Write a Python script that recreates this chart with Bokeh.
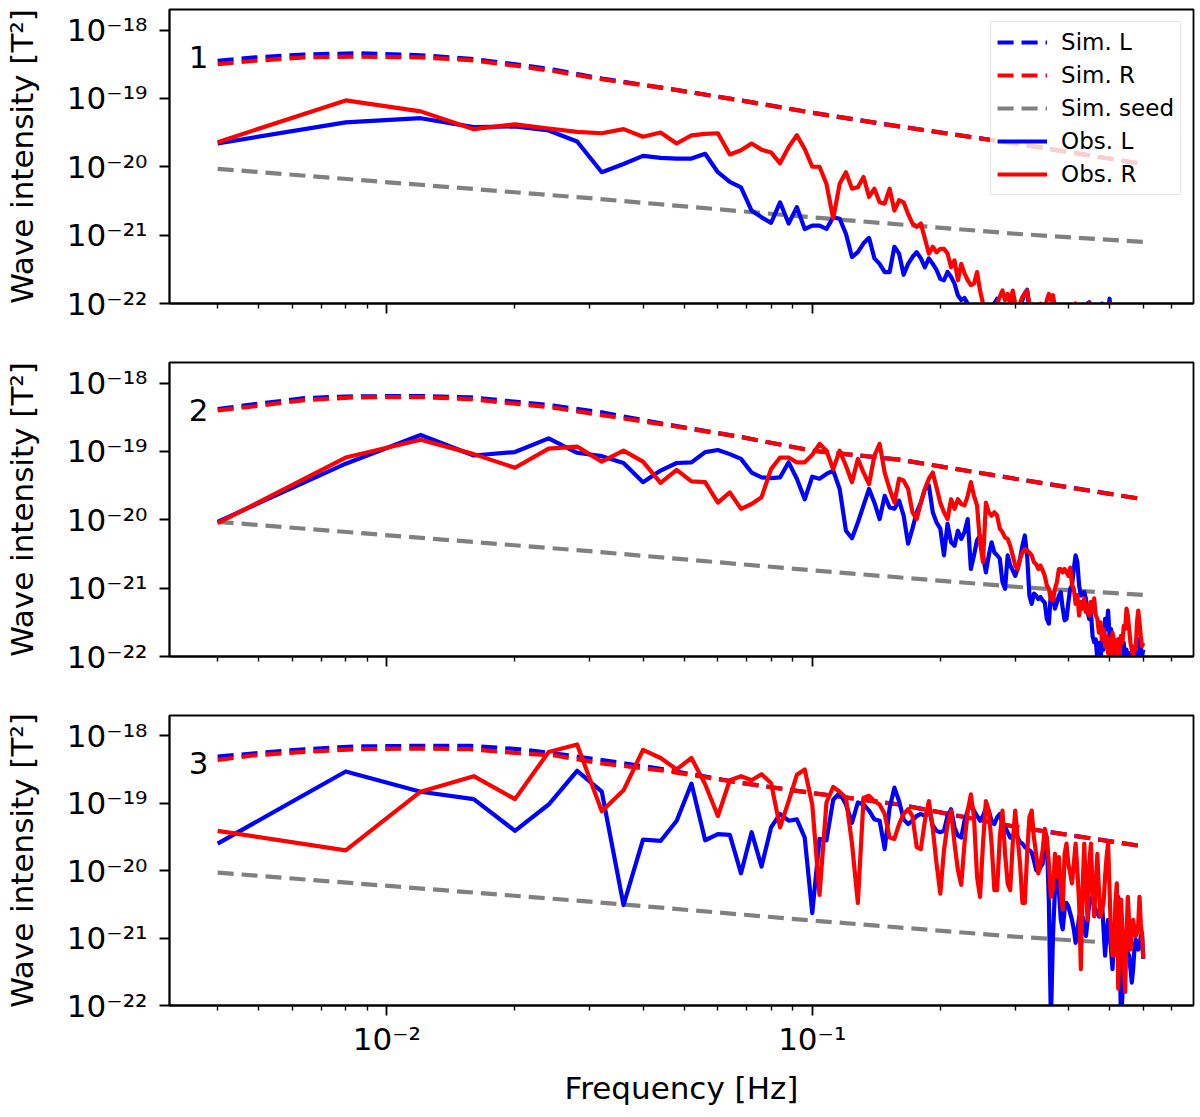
from bokeh.plotting import figure
from bokeh.models import Range1d, FixedTicker, CustomJSTickFormatter, Label, Legend, LegendItem
from bokeh.layouts import column
from bokeh.embed import file_html
from bokeh.resources import INLINE

# ---------------- data (intensities given as log10 of T^2) ----------------
# observed spectra sampled every 0.004 Hz (k = 1..150)
freq = [round(0.004 * k, 3) for k in range(1, 151)]

obs_L1_log10 = [
    -19.66, -19.35, -19.29, -19.42, -19.41, -19.47, -19.63, -20.08, -19.96, -19.84,
    -19.87, -19.88, -19.88, -19.81, -20.08, -20.22, -20.30, -20.64, -20.74, -20.82,
    -20.52, -20.83, -20.59, -20.91, -20.86, -20.86, -20.91, -20.74, -20.76, -20.98,
    -21.32, -21.25, -21.12, -21.04, -21.34, -21.42, -21.54, -21.54, -21.17, -21.27,
    -21.58, -21.42, -21.32, -21.25, -21.34, -21.47, -21.34, -21.42, -21.51, -21.64,
    -21.66, -21.54, -21.61, -21.71, -21.88, -21.95, -21.92, -22.00, -22.08, -22.20,
    -22.15, -22.30, -22.10, -22.25, -22.20, -22.10, -22.00, -21.93, -22.05, -22.20,
    -22.30, -22.15, -22.25, -22.10, -22.20, -22.30, -22.05, -21.95, -21.85, -21.80,
    -22.10, -22.05, -22.20, -22.30, -22.15, -22.10, -22.20, -22.30, -22.15, -22.05,
    -22.02, -22.20, -22.30, -22.25, -22.20, -22.30, -22.25, -22.35, -22.30, -22.20,
    -22.30, -22.25, -22.30, -22.35, -22.30, -22.20, -22.30, -22.25, -22.10, -22.05,
    -22.00, -21.98, -22.20, -22.30, -22.25, -22.10, -22.05, -22.02, -22.15, -22.00,
    -22.30, -22.35, -22.30, -22.10, -21.93, -22.15, -22.30, -22.25, -22.30, -22.20,
    -22.10, -22.20, -22.30, -22.25, -22.10, -22.10, -22.15, -22.20, -22.10, -22.30,
    -22.35, -22.30, -22.25, -22.05, -22.20, -22.30, -22.35, -22.30, -22.40, -22.35,
]
obs_R1_log10 = [
    -19.64, -19.03, -19.19, -19.45, -19.38, -19.44, -19.49, -19.51, -19.45, -19.56,
    -19.50, -19.66, -19.54, -19.52, -19.51, -19.82, -19.76, -19.66, -19.75, -19.79,
    -19.95, -19.71, -19.54, -19.74, -20.00, -20.00, -20.25, -20.76, -20.25, -20.08,
    -20.32, -20.30, -20.15, -20.44, -20.32, -20.52, -20.54, -20.32, -20.64, -20.49,
    -20.52, -20.69, -20.83, -20.88, -20.83, -21.05, -21.27, -21.17, -21.25, -21.20,
    -21.20, -21.27, -21.47, -21.37, -21.66, -21.42, -21.56, -21.66, -21.73, -21.71,
    -21.54, -21.81, -22.00, -22.10, -22.15, -22.20, -22.10, -22.00, -21.90, -21.81,
    -21.95, -21.86, -22.00, -21.81, -22.00, -22.10, -22.00, -21.90, -21.86, -21.81,
    -22.00, -22.10, -22.20, -22.10, -22.20, -22.00, -22.05, -22.10, -21.95, -21.86,
    -21.95, -21.88, -22.05, -22.20, -22.30, -22.20, -22.25, -22.30, -22.35, -22.30,
    -22.20, -22.10, -22.05, -22.00, -22.15, -22.30, -22.35, -22.30, -22.20, -22.10,
    -22.05, -22.00, -22.15, -22.30, -22.35, -22.30, -22.25, -22.30, -22.35, -22.30,
    -22.20, -22.10, -22.05, -22.15, -22.00, -22.20, -22.30, -22.35, -22.30, -22.25,
    -22.30, -22.35, -22.30, -22.40, -22.35, -22.30, -22.25, -22.30, -22.35, -22.40,
    -22.35, -22.30, -22.35, -22.40, -22.35, -22.30, -22.35, -22.40, -22.35, -22.40,
]
obs_L2_log10 = [
    -20.03, -19.18, -18.76, -19.06, -19.01, -18.81, -19.02, -19.07, -19.17, -19.45,
    -19.28, -19.17, -19.16, -19.01, -18.98, -19.04, -19.11, -19.31, -19.38, -19.39,
    -19.38, -19.16, -19.40, -19.70, -19.37, -19.40, -19.33, -19.28, -19.55, -20.16,
    -20.27, -20.04, -19.79, -19.55, -19.75, -19.99, -19.65, -19.82, -19.84, -19.72,
    -19.94, -20.35, -20.13, -19.89, -19.75, -19.55, -19.50, -19.89, -20.04, -20.13,
    -20.52, -20.06, -20.33, -20.38, -20.16, -20.28, -20.18, -19.99, -20.72, -20.52,
    -20.30, -20.23, -20.52, -20.77, -20.52, -20.33, -20.48, -20.52, -20.57, -20.91,
    -21.01, -20.52, -20.67, -20.74, -20.82, -20.72, -20.57, -20.38, -20.23, -20.52,
    -21.11, -21.23, -21.08, -21.11, -21.16, -21.13, -21.18, -21.21, -21.45, -21.52,
    -21.06, -21.11, -21.30, -21.21, -21.11, -21.06, -21.30, -21.47, -21.45, -21.21,
    -21.01, -20.96, -20.72, -20.52, -20.62, -20.96, -21.11, -21.08, -21.06, -21.16,
    -21.35, -21.45, -21.35, -21.70, -21.79, -21.75, -22.05, -21.80, -22.10, -21.70,
    -21.90, -21.45, -21.60, -21.33, -21.70, -21.60, -22.00, -21.80, -22.15, -21.90,
    -21.75, -22.00, -21.70, -21.95, -21.80, -22.10, -21.90, -22.20, -21.95, -22.10,
    -21.95, -22.20, -22.05, -21.85, -22.00, -21.75, -22.10, -21.85, -22.00, -21.90,
]
obs_R2_log10 = [
    -20.05, -19.09, -18.83, -19.04, -19.24, -18.96, -18.93, -19.15, -18.99, -19.15,
    -19.46, -19.27, -19.44, -19.45, -19.75, -19.60, -19.84, -19.77, -19.67, -19.26,
    -19.09, -19.09, -19.16, -19.16, -19.05, -18.89, -18.99, -19.26, -18.99, -19.21,
    -19.45, -19.11, -19.31, -19.48, -19.06, -18.89, -19.31, -19.55, -19.75, -19.40,
    -19.43, -19.55, -19.89, -19.99, -19.75, -19.55, -19.40, -19.31, -19.53, -19.75,
    -19.89, -19.99, -19.70, -19.84, -19.70, -19.77, -19.79, -19.65, -19.45, -19.65,
    -19.79, -20.33, -20.62, -19.75, -19.89, -19.94, -19.89, -19.94, -20.13, -20.18,
    -20.26, -20.28, -20.38, -20.52, -20.67, -20.72, -20.57, -20.48, -20.43, -20.45,
    -20.48, -20.52, -20.62, -20.65, -20.72, -20.67, -20.74, -20.82, -20.96, -21.01,
    -21.16, -21.18, -21.01, -20.91, -20.72, -20.72, -20.77, -20.72, -20.77, -20.82,
    -20.70, -20.95, -21.01, -21.23, -21.10, -21.40, -21.20, -21.30, -21.15, -21.35,
    -21.25, -21.40, -21.20, -21.35, -21.15, -21.40, -21.45, -21.65, -21.50, -21.75,
    -21.60, -21.85, -21.70, -21.95, -21.75, -22.00, -21.65, -21.75, -21.90, -22.00,
    -21.75, -21.95, -21.70, -21.80, -21.55, -21.60, -21.30, -21.40, -21.60, -21.80,
    -21.90, -22.00, -21.85, -21.90, -21.50, -21.33, -21.50, -21.70, -21.85, -21.80,
]
obs_L3_log10 = [
    -19.60, -18.53, -18.83, -18.94, -19.41, -19.02, -18.52, -18.83, -20.51, -19.54,
    -19.56, -19.26, -18.71, -19.55, -19.46, -19.47, -20.04, -19.43, -19.94, -19.36,
    -19.16, -19.26, -19.24, -19.51, -20.63, -19.53, -19.55, -18.95, -18.85, -19.02,
    -19.29, -18.99, -19.02, -19.11, -19.24, -19.26, -19.68, -19.07, -18.77, -18.97,
    -19.24, -19.31, -19.26, -19.19, -19.16, -19.19, -19.09, -19.33, -19.41, -19.43,
    -19.41, -19.19, -19.09, -19.36, -19.48, -19.51, -19.26, -19.11, -19.02, -19.11,
    -19.19, -19.26, -19.19, -19.07, -19.11, -19.26, -19.31, -19.21, -19.16, -19.31,
    -19.36, -19.43, -19.51, -19.48, -19.46, -19.51, -19.58, -19.60, -19.65, -19.68,
    -19.70, -19.73, -19.85, -19.99, -20.02, -19.95, -19.90, -19.60, -19.51, -20.48,
    -22.24, -20.97, -20.29, -20.09, -20.29, -20.73, -20.87, -20.58, -20.48, -20.53,
    -20.63, -20.73, -20.87, -21.07, -20.92, -20.68, -20.68, -20.68, -20.87, -20.97,
    -20.73, -20.48, -20.43, -20.39, -20.53, -20.58, -20.63, -20.68, -20.58, -20.48,
    -20.87, -21.26, -20.97, -20.73, -20.78, -21.17, -21.46, -20.97, -20.68, -20.53,
    -20.39, -21.22, -22.24, -21.85, -21.26, -20.97, -21.07, -21.22, -21.26, -21.46,
    -21.66, -21.46, -21.17, -21.02, -21.07, -21.17, -21.12, -20.97, -20.92, -21.31,
]
obs_R3_log10 = [
    -19.41, -19.70, -18.83, -18.60, -18.94, -18.24, -18.13, -19.12, -18.81, -18.21,
    -18.33, -18.50, -18.33, -18.72, -19.19, -18.66, -18.60, -18.66, -18.57, -18.70,
    -19.36, -18.97, -18.58, -18.50, -19.02, -20.36, -18.99, -18.76, -18.83, -18.92,
    -19.60, -20.48, -18.92, -18.89, -18.97, -19.02, -19.16, -19.51, -19.53, -19.31,
    -19.16, -19.09, -19.19, -19.65, -19.68, -19.26, -18.97, -19.38, -19.90, -20.34,
    -19.70, -19.31, -19.11, -19.60, -19.99, -20.21, -19.60, -19.11, -18.87, -19.21,
    -20.09, -20.39, -19.60, -18.97, -19.11, -19.60, -20.29, -20.29, -19.51, -19.11,
    -19.75, -20.19, -20.29, -19.60, -19.11, -19.51, -19.90, -20.48, -20.48, -19.75,
    -19.21, -19.11, -19.51, -19.75, -20.04, -19.90, -19.70, -19.38, -19.51, -19.90,
    -20.39, -20.29, -19.75, -20.09, -19.80, -20.29, -20.58, -19.75, -19.60, -19.90,
    -20.04, -20.19, -19.90, -19.60, -19.99, -20.48, -21.46, -20.29, -19.60, -20.29,
    -20.73, -19.90, -19.60, -20.29, -20.68, -20.19, -19.75, -20.29, -20.68, -20.58,
    -20.48, -20.09, -19.80, -19.60, -20.29, -20.97, -21.26, -21.26, -20.48, -20.19,
    -21.75, -20.97, -20.43, -20.87, -21.36, -21.80, -20.97, -20.39, -20.78, -21.17,
    -20.92, -20.73, -20.87, -20.97, -20.92, -20.78, -20.39, -20.78, -20.97, -21.30,
]

# simulated spectra
sim_freq = [0.004, 0.0049, 0.0064, 0.0084, 0.012, 0.0157, 0.0205, 0.0246,
            0.032, 0.045, 0.068, 0.1, 0.16, 0.3, 0.6]
sim_L1_log10 = [-18.45, -18.40, -18.36, -18.34, -18.37, -18.42, -18.51, -18.58,
                -18.71, -18.85, -19.03, -19.21, -19.41, -19.66, -19.96]
sim_R1_log10 = [-18.50, -18.45, -18.40, -18.39, -18.40, -18.44, -18.53, -18.60,
                -18.72, -18.85, -19.03, -19.21, -19.41, -19.66, -19.96]
sim_L2_log10 = [-18.38, -18.31, -18.22, -18.195, -18.19, -18.21, -18.28, -18.33,
                -18.43, -18.60, -18.79, -18.99, -19.12, -19.40, -19.70]
sim_R2_log10 = [-18.40, -18.34, -18.25, -18.21, -18.205, -18.235, -18.31, -18.36,
                -18.47, -18.61, -18.79, -18.99, -19.12, -19.40, -19.70]
sim_L3_log10 = [-18.31, -18.26, -18.20, -18.16, -18.15, -18.15, -18.20, -18.26,
                -18.36, -18.50, -18.70, -18.85, -19.02, -19.35, -19.64]
sim_R3_log10 = [-18.36, -18.29, -18.24, -18.20, -18.19, -18.20, -18.26, -18.29,
                -18.41, -18.52, -18.70, -18.85, -19.02, -19.35, -19.64]
seed_freq = [0.004, 0.03, 0.1, 0.3, 0.6]
seed_log10 = [-20.03, -20.46, -20.74, -20.98, -21.10]

panel_names = ["1", "2", "3"]
legend_labels = ["Sim. L", "Sim. R", "Sim. seed", "Obs. L", "Obs. R"]
y_ticks = [1e-22, 1e-21, 1e-20, 1e-19, 1e-18]
x_ticks = [0.01, 0.1]
x_minor = [0.004, 0.005, 0.006, 0.007, 0.008, 0.009,
           0.02, 0.03, 0.04, 0.05, 0.06, 0.07, 0.08, 0.09,
           0.2, 0.3, 0.4, 0.5, 0.6, 0.7]

# ---------------- styling ----------------
FONT = "DejaVu Sans"
BLUE, RED, GRAY = "#0000ff", "#ff0000", "#808080"
LW = 4.2
DASH = "16 8"
FS = "31px"

SUP_JS = """
const m = {'-':'\u207b','0':'\u2070','1':'\u00b9','2':'\u00b2','3':'\u00b3','4':'\u2074',
           '5':'\u2075','6':'\u2076','7':'\u2077','8':'\u2078','9':'\u2079'};
const e = Math.round(Math.log10(tick));
return '10' + String(e).split('').map(c => m[c]).join('');
"""


def tv(a):
    return [10.0 ** v for v in a]


def style_axis(ax):
    ax.axis_line_color = "black"
    ax.axis_line_width = 1.8
    ax.major_tick_line_color = "black"
    ax.major_tick_line_width = 1.8
    ax.minor_tick_line_color = "black"
    ax.minor_tick_line_width = 1.4
    ax.major_tick_out = 10
    ax.major_tick_in = 0
    ax.minor_tick_out = 5
    ax.minor_tick_in = 0
    ax.major_label_text_font = FONT
    ax.major_label_text_font_size = FS
    ax.major_label_text_color = "black"
    ax.axis_label_text_font = FONT
    ax.axis_label_text_font_size = FS
    ax.axis_label_text_font_style = "normal"
    ax.axis_label_text_color = "black"


def make_panel(idx, obsL, obsR, simL, simR, height, btop, bbot, show_x):
    p = figure(width=1196, height=height, x_axis_type="log", y_axis_type="log",
               x_range=Range1d(0.003082, 0.7876), y_range=Range1d(1e-22, 10 ** -17.70),
               output_backend="svg", toolbar_location=None,
               min_border_left=165, min_border_right=3,
               min_border_top=btop, min_border_bottom=bbot)
    p.xgrid.visible = False
    p.ygrid.visible = False
    p.outline_line_color = "black"
    p.outline_line_width = 1.8
    p.outline_line_alpha = 1.0
    p.background_fill_color = "white"
    p.border_fill_color = "white"

    r1 = p.line(sim_freq, tv(simL), line_color=BLUE, line_width=LW, line_dash=DASH)
    r2 = p.line(sim_freq, tv(simR), line_color=RED, line_width=LW, line_dash=DASH)
    r3 = p.line(seed_freq, tv(seed_log10), line_color=GRAY, line_width=LW, line_dash=DASH)
    r4 = p.line(freq, tv(obsL), line_color=BLUE, line_width=LW, line_join="round")
    r5 = p.line(freq, tv(obsR), line_color=RED, line_width=LW, line_join="round")

    yax = p.yaxis[0]
    style_axis(yax)
    yax.ticker = FixedTicker(ticks=y_ticks, minor_ticks=[])
    yax.formatter = CustomJSTickFormatter(code=SUP_JS)
    yax.minor_tick_line_color = None
    yax.major_label_standoff = 12
    yax.axis_label = "Wave intensity [T\u00b2]"
    yax.axis_label_standoff = 24

    xax = p.xaxis[0]
    style_axis(xax)
    xax.ticker = FixedTicker(ticks=x_ticks, minor_ticks=x_minor)
    if show_x:
        xax.formatter = CustomJSTickFormatter(code=SUP_JS)
        xax.major_label_standoff = 5
        xax.axis_label = "Frequency [Hz]"
        xax.axis_label_standoff = 10
    else:
        xax.formatter = CustomJSTickFormatter(code="return '';")
        xax.major_label_text_font_size = "1px"

    p.add_layout(Label(x=0.00342, y=10 ** -18.40, text=panel_names[idx],
                       text_font=FONT, text_font_size=FS, text_color="black",
                       text_align="left", text_baseline="middle"))

    if idx == 0:
        legend = Legend(items=[LegendItem(label=legend_labels[i], renderers=[r])
                               for i, r in enumerate([r1, r2, r3, r4, r5])],
                        location="top_right", margin=12, padding=6, spacing=5,
                        glyph_width=50, glyph_height=28, label_height=28,
                        label_standoff=14, label_text_font=FONT,
                        label_text_font_size="23px", label_text_color="black",
                        border_line_color="#cccccc", border_line_width=1.5,
                        background_fill_color="white", background_fill_alpha=0.8)
        p.add_layout(legend)
    return p


p1 = make_panel(0, obs_L1_log10, obs_R1_log10, sim_L1_log10, sim_R1_log10, 333, 9, 30, False)
p2 = make_panel(1, obs_L2_log10, obs_R2_log10, sim_L2_log10, sim_R2_log10, 353, 29, 30, False)
p3 = make_panel(2, obs_L3_log10, obs_R3_log10, sim_L3_log10, sim_R3_log10, 422, 29, 100, True)

layout = column(p1, p2, p3, spacing=0)
open("out.html", "w").write(file_html(layout, INLINE))
